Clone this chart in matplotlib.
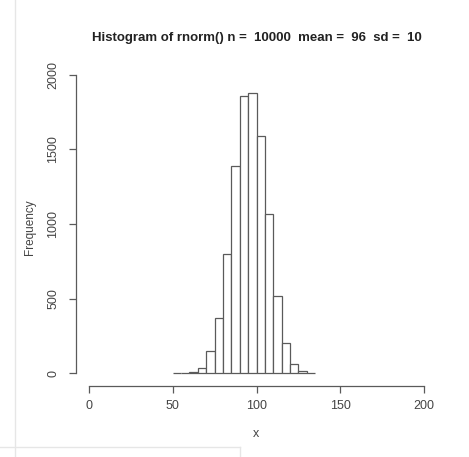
import matplotlib
matplotlib.use("Agg")
import matplotlib.pyplot as plt
from matplotlib.lines import Line2D
import numpy as np

# Data (bins of width 5)
bin_edges = [50, 55, 60, 65, 70, 75, 80, 85, 90, 95, 100, 105, 110, 115, 120, 125, 130, 135]
counts = [1, 3, 10, 31, 150, 371, 799, 1387, 1860, 1880, 1590, 1065, 517, 203, 58, 12, 2]
x_ticks = [0, 50, 100, 150, 200]
y_ticks = [0, 500, 1000, 1500, 2000]
title = "Histogram of rnorm() n =  10000  mean =  96  sd =  10"

plt.rcParams['font.family'] = ['Liberation Sans', 'DejaVu Sans']

W, H = 469, 457
fig = plt.figure(figsize=(W / 100, H / 100), dpi=100)
ax = fig.add_axes([76 / W, 1 - 386 / H, 361 / W, (386 - 62) / H])

col = "#5a5a5a"
lefts = np.array(bin_edges[:-1])
widths = np.diff(bin_edges)
ax.bar(lefts, counts, width=widths, align='edge', facecolor='white',
       edgecolor=col, linewidth=0.9)

ax.set_xlim(-7.76, 207.76)
ax.set_ylim(-87, 2087)

for s in ['top', 'right']:
    ax.spines[s].set_visible(False)
for s in ['left', 'bottom']:
    ax.spines[s].set_color(col)
    ax.spines[s].set_linewidth(0.9)
ax.spines['bottom'].set_bounds(0, 200)
ax.spines['left'].set_bounds(0, 2000)

ax.set_xticks(x_ticks)
ax.set_yticks(y_ticks)
ax.set_xticklabels([str(v) for v in x_ticks])
ax.set_yticklabels([str(v) for v in y_ticks], rotation=90, va='center')
ax.tick_params(axis='both', length=5, width=0.9, color=col, labelcolor='#444444',
               labelsize=9)
ax.tick_params(axis='x', pad=5)
ax.tick_params(axis='y', pad=7)

fig.text(256 / W, 1 - 434 / H, "x", ha='center', va='center', fontsize=9, color='#444444')
fig.text(30 / W, 1 - 227 / H, "Frequency", ha='center', va='center', rotation=90,
         fontsize=8.5, color='#444444')
fig.text(257 / W, 1 - 38 / H, title, ha='center', va='center', fontsize=9.5,
         fontweight='bold', color='#222222')

# faint screenshot frame lines
fig.add_artist(Line2D([15 / W, 15 / W], [1 - 457 / H, 1.0], color='#e6e6e6', lw=1))
fig.add_artist(Line2D([0, 240 / W], [1 - 447 / H, 1 - 447 / H], color='#e6e6e6', lw=1))
fig.add_artist(Line2D([240 / W, 240 / W], [0, 1 - 447 / H], color='#e6e6e6', lw=1))

fig.savefig("out.png", dpi=100, facecolor='white')
